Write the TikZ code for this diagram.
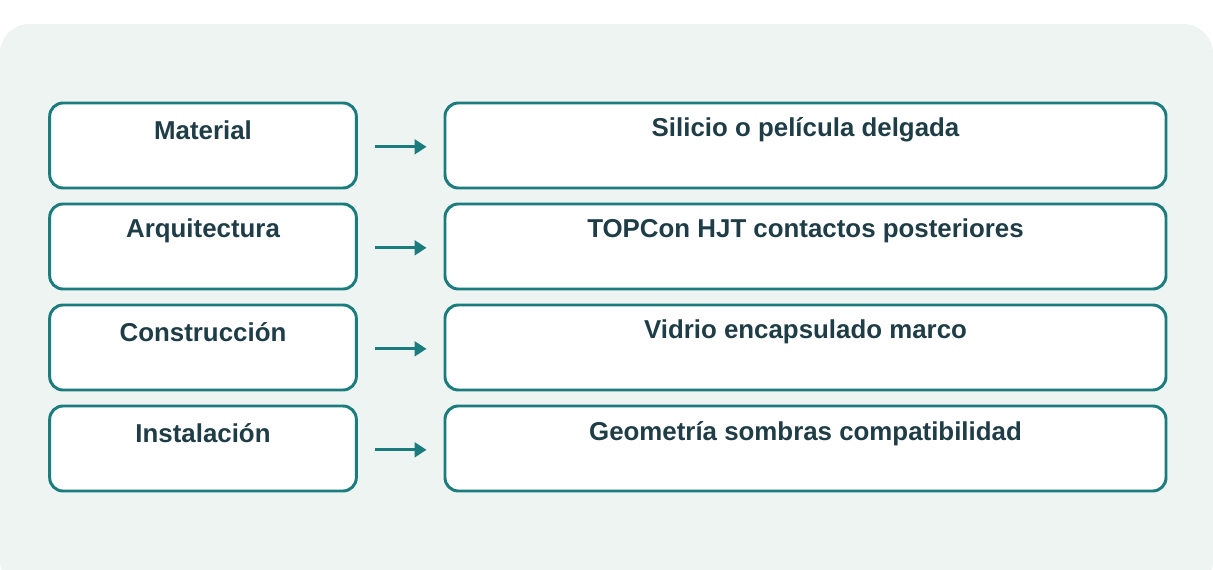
\documentclass[tikz,border=0pt]{standalone}
\usepackage{fontspec}
\setmainfont{Liberation Sans}
\usetikzlibrary{arrows.meta}
\definecolor{panelbg}{RGB}{238,244,242}
\definecolor{teal}{RGB}{26,124,124}
\definecolor{ink}{RGB}{31,61,71}
\tikzset{every picture/.style={line width=0.75pt}}
\tikzset{
  box/.style={draw=teal,line width=2.2pt,fill=white,rounded corners=10pt,inner sep=0pt},
  lbl/.style={text=ink,font=\bfseries\fontsize{19.4}{23}\selectfont,inner sep=0pt},
  flow/.style={draw=teal,line width=2.2pt,-{Triangle[length=9pt,width=11pt]}}
}
\begin{document}
\begin{tikzpicture}[x=0.75pt,y=0.75pt,yscale=-1,xscale=1]
\useasboundingbox (0,0) rectangle (1213,570);
% panel
\fill [panelbg,rounded corners=22pt] (0,24) rectangle (1213,590);

% boxes
\foreach \i/\lt/\rt in {1/Material/{Silicio o película delgada},
                        2/Arquitectura/{TOPCon HJT contactos posteriores},
                        3/Construcción/{Vidrio encapsulado marco},
                        4/Instalación/{Geometría sombras compatibilidad}}{
  \node [box,minimum width=230pt,minimum height=63.75pt] (m\i) at (203,{145.5+101*(\i-1)}) {};
  \node [box,minimum width=540.75pt,minimum height=63.75pt] (d\i) at (805.5,{145.5+101*(\i-1)}) {};
  \node [lbl] (mt\i) at ([yshift=21.5pt]m\i.north) {\lt};
  \node [lbl] (dt\i) at ([yshift=21.5pt]d\i.north) {\rt};
  \draw [flow] ([xshift=12.75pt,yshift=1pt]m\i.east) -- ([xshift=-12.75pt,yshift=1pt]d\i.west);
}

\end{tikzpicture}
\end{document}
